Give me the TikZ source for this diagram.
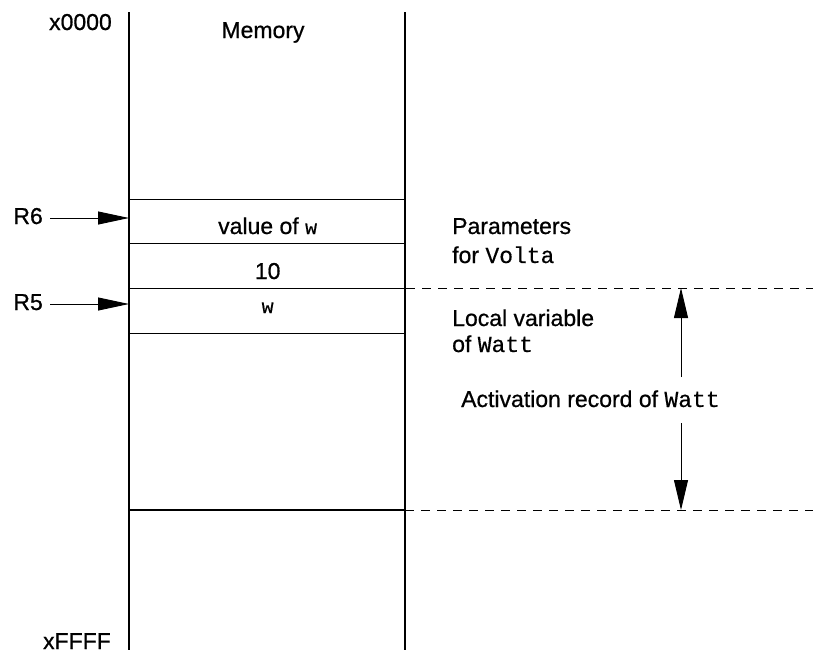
\documentclass[tikz,border=0pt]{standalone}
\usepackage{fontspec}
\setmainfont{Liberation Sans}[BoldFont=Liberation Sans, BoldFeatures={FakeBold=0.7}]
\setmonofont{Liberation Mono}[BoldFont=Liberation Mono, BoldFeatures={FakeBold=0.4}]
\usetikzlibrary{arrows.meta}
\begin{document}
\begin{tikzpicture}[x=1pt,y=-1pt,
  lbl/.style={font=\fontsize{23}{27}\selectfont\bfseries, inner sep=0pt},
  cell/.style={draw, line width=1.3pt, minimum width=276pt, inner sep=0pt, lbl},
  col/.style={line width=1.1pt},
  ptr/.style={line width=0.9pt, -{Triangle[length=31pt,width=13pt]}},
  span/.style={line width=0.9pt, -{Triangle[length=30pt,width=14pt]}},
  dashline/.style={dashed, dash pattern=on 9pt off 7pt, line width=1pt}]
\useasboundingbox (0,0) rectangle (813,654);
% column
\coordinate (tl) at (129,12);
\coordinate (bl) at (129,650);
\coordinate (tr) at (405,12);
\coordinate (br) at (405,650);
\draw[col] (tl) -- (bl);
\draw[col] (tr) -- (br);
\node[lbl, anchor=base east] (top) at (112,30) {x0000};
\node[lbl, anchor=base east] (bot) at (111,649) {xFFFF};
\node[lbl, anchor=base] (mem) at (263,38) {Memory};
% cells
\node[cell, minimum height=44pt, anchor=north west] (c1) at (129,199) {};
\node[lbl, anchor=base] (t1) at (c1.center |- 0,234) {value of {\ttfamily\fontsize{20}{24}\selectfont w}};
\node[cell, minimum height=45pt, anchor=north west] (c2) at (129,243) {};
\node[lbl, anchor=base] (t2) at (c2.center |- 0,279) {10};
\node[cell, minimum height=45pt, anchor=north west] (c3) at (129,288) {};
\node[lbl, anchor=base] (t3) at (c3.center |- 0,313) {{\ttfamily\fontsize{20}{24}\selectfont w}};
\coordinate (l5a) at (129,510);
\coordinate (l5b) at (405,510);
\draw[line width=1.3pt] (l5a) -- (l5b);
% pointers
\node[lbl, anchor=base east] (r6) at (43,224) {R6};
\node[lbl, anchor=base east] (r5) at (43,310) {R5};
\coordinate (r6s) at (50,218);
\coordinate (r5s) at (50,304);
\draw[ptr] (r6s) -- (r6s -| c1.west);
\draw[ptr] (r5s) -- (r5s -| c3.west);
% dashed extensions
\coordinate (d1) at (813,288);
\coordinate (d2) at (813,510);
\draw[dashline] (c3.north east) -- (d1);
\draw[dashline] (l5b) -- (d2);
% labels
\node[lbl, anchor=base west] (p1) at (452,234) {Parameters};
\node[lbl, anchor=base west] (p2) at (452,263) {for {\ttfamily\fontsize{23}{26}\selectfont Volta}};
\node[lbl, anchor=base west] (v1) at (452,326) {Local variable};
\node[lbl, anchor=base west] (v2) at (452,352) {of {\ttfamily\fontsize{23}{26}\selectfont Watt}};
\node[lbl, anchor=base west] (ar) at (461,407) {Activation record of {\ttfamily\fontsize{23}{26}\selectfont Watt}};
% span arrows
\coordinate (aup) at (681,288);
\coordinate (aupf) at (681,377);
\coordinate (adn) at (681,510);
\coordinate (adnf) at (681,423);
\draw[span] (aupf) -- (aup);
\draw[span] (adnf) -- (adn);
\end{tikzpicture}
\end{document}
